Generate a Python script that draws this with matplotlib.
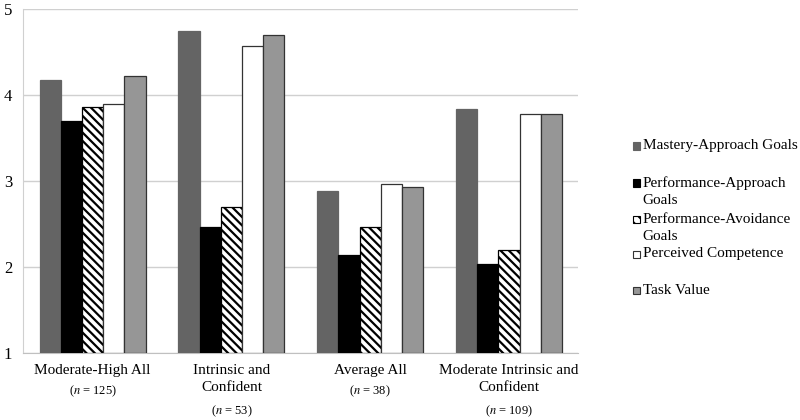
import matplotlib
matplotlib.use("Agg")
import matplotlib.pyplot as plt
from matplotlib.patches import Rectangle
import numpy as np

plt.rcParams['font.family'] = ['Liberation Serif', 'DejaVu Serif']
plt.rcParams['mathtext.fontset'] = 'stix'
plt.rcParams['hatch.linewidth'] = 1.6

# profile groups and their sample sizes
groups = ["Moderate-High All", "Intrinsic and\nConfident", "Average All",
          "Moderate Intrinsic and\nConfident"]
group_n = ["125", "53", "38", "109"]

# motivation variables (series)
series_names = ["Mastery-Approach Goals", "Performance-Approach\nGoals",
                "Performance-Avoidance\nGoals", "Perceived Competence",
                "Task Value"]
mastery_approach = [4.17, 4.74, 2.88, 3.84]
performance_approach = [3.70, 2.46, 2.14, 2.03]
performance_avoidance = [3.86, 2.70, 2.46, 2.19]
perceived_competence = [3.89, 4.57, 2.96, 3.78]
task_value = [4.22, 4.69, 2.93, 3.78]

values = [mastery_approach, performance_approach, performance_avoidance,
          perceived_competence, task_value]
styles = [
    dict(facecolor='#646464', edgecolor='#646464'),
    dict(facecolor='black', edgecolor='black'),
    dict(facecolor='white', edgecolor='black', hatch='\\\\\\\\'),
    dict(facecolor='white', edgecolor='#333333'),
    dict(facecolor='#969696', edgecolor='#333333'),
]

fig = plt.figure(figsize=(8, 4.2), dpi=100)
ax = fig.add_axes([0.029, 0.16, 0.694, 0.819])

x = np.arange(len(groups))
width = 0.153
offsets = (np.arange(5) - 2) * width
for i in range(5):
    ax.bar(x + offsets[i], np.array(values[i]) - 1, width, bottom=1,
           linewidth=0.9, zorder=3, **styles[i])

ax.set_ylim(1, 5)
ax.set_xlim(-0.5, len(groups) - 0.5)
ax.set_yticks([1, 2, 3, 4, 5])
ax.tick_params(axis='y', length=0, labelsize=12, pad=8)
ax.set_xticks([])
ax.yaxis.grid(True, color='#d0d0d0', linewidth=1.0, zorder=0)
for s in ['top', 'right']:
    ax.spines[s].set_visible(False)
ax.spines['left'].set_color('#d0d0d0')
ax.spines['bottom'].set_color('#c0c0c0')

trans = ax.get_xaxis_transform()
for i, (g, n) in enumerate(zip(groups, group_n)):
    ax.text(x[i], -0.032, g, transform=trans, ha='center', va='top',
            fontsize=11, linespacing=1.45)
    ny = -0.088 if '\n' not in g else -0.148
    ax.text(x[i], ny, "($n$ = %s)" % n, transform=trans, ha='center',
            va='top', fontsize=9)

# legend, Excel style: fixed slots, handle next to the first text line
leg_x = 0.791
leg_y = [1 - 146 / 420, 1 - 183 / 420, 1 - 219 / 420, 1 - 254 / 420,
         1 - 290 / 420]
sq_w, sq_h = 7 / 800, 7 / 420
for i, name in enumerate(series_names):
    st = dict(styles[i])
    if 'hatch' in st:
        st['hatch'] = '\\\\\\'
    fig.patches.append(Rectangle((leg_x, leg_y[i] - sq_h / 2), sq_w, sq_h,
                                 transform=fig.transFigure, linewidth=0.8,
                                 **st))
    fig.text(leg_x + 10 / 800, leg_y[i] + 6.5 / 420, name, ha='left',
             va='top', fontsize=11, linespacing=1.4)

fig.savefig("out.png", dpi=100)
